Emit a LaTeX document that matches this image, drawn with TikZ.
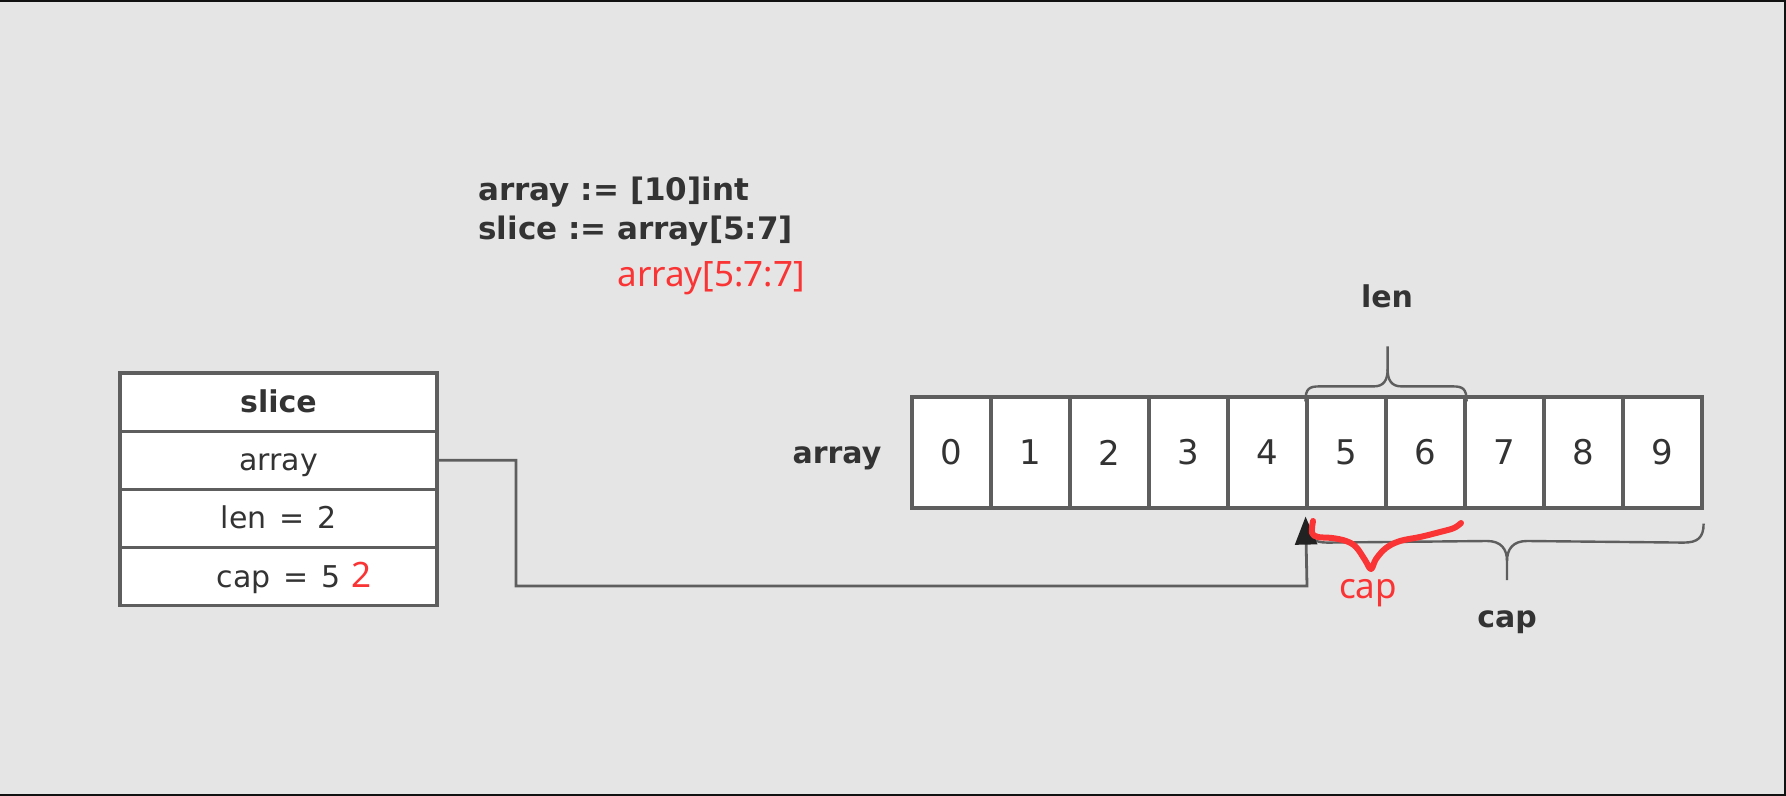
\documentclass[tikz,border=0pt]{standalone}
\usepackage{fontspec}
\setmainfont{DejaVu Sans}
\newfontfamily\redfont{Noto Sans}
\usetikzlibrary{arrows.meta,calc}
\definecolor{bg}{HTML}{E5E5E5}
\definecolor{ink}{HTML}{333333}
\definecolor{edge}{HTML}{5E5E5E}
\definecolor{hand}{HTML}{FA3434}
\definecolor{frame}{HTML}{111111}
\definecolor{tipc}{HTML}{222222}
\tikzset{
  row/.style={draw=edge, line width=1.6pt, fill=white, minimum width=158.5pt, minimum height=29.1pt, inner sep=0pt, text=ink, font=\fontsize{15}{18}\selectfont, text height=11.8pt, text depth=1.5pt},
  cell/.style={draw=edge, line width=1.6pt, fill=white, minimum width=39.5pt, minimum height=55.5pt, inner sep=0pt, text=ink, font=\fontsize{17}{20}\selectfont},
  boldlab/.style={text=ink, font=\bfseries\fontsize{15}{18}\selectfont, inner sep=0pt, text height=11.8pt, text depth=1.5pt},
  code/.style={text=ink, font=\bfseries\fontsize{15.5}{19}\selectfont, inner sep=0pt, anchor=west},
  redtext/.style={text=hand, font=\redfont\fontsize{17.5}{20}\selectfont, inner sep=0pt},
  link/.style={draw=edge, line width=1.4pt},
  bracestyle/.style={draw=edge, line width=1.2pt},
  handstroke/.style={draw=hand, line width=3pt, line cap=round, line join=round}
}
\begin{document}
\begin{tikzpicture}[x=0.5pt,y=-0.5pt]
\fill[bg] (0,0) rectangle (1786,796);
\useasboundingbox (0,0) rectangle (1786,796);
\fill[frame] (0,0) rectangle (1786,2.5);
\fill[frame] (1783.5,0) rectangle (1786,796);
\fill[frame] (0,793.5) rectangle (1786,796);

% code text
\node[code] (l1) at (478,192) {array := [10]int};
\node[code] (l2) at (478,231) {slice := array[5:7]};
\node[redtext, anchor=west] (l3) at (617,278) {array[5:7:7]};

% slice struct
\node[row, font=\bfseries\fontsize{15}{18}\selectfont] (s0) at (278.5,402) {slice};
\node[row] (s1) at (278.5,460.25) {array};
\node[row] (s2) at (278.5,518.5) {len\hskip0.42em=\hskip0.42em2};
\node[row] (s3) at (278.5,576.75) {};
\node[text=ink, font=\fontsize{15}{18}\selectfont, inner sep=0pt, text height=11.8pt, text depth=1.5pt] (capt) at (s3) {cap\hskip0.42em=\hskip0.42em5};
\node[redtext, anchor=base west, inner sep=0pt] (two) at ($(capt.base east)+(11,0)$) {2};

% array
\node[boldlab] (alab) at (837,453) {array};
\foreach \i in {0,...,9} {
  \node[cell] (c\i) at ({951.5+79*\i},452.5) {\i};
}

% len brace
\draw[bracestyle] ($(c5.north west)+(0,6)$) .. controls ($(c5.north west)+(0,-7)$) and ($(c5.north west)+(4,-9)$) .. ($(c5.north west)+(14,-9)$)
  -- ($(c5.north east)+(-14,-9)$) .. controls ($(c5.north east)+(-4,-9)$) and ($(c5.north east)+(0,-15)$) .. ($(c5.north east)+(0,-26)$) -- ($(c5.north east)+(0,-49)$);
\draw[bracestyle] ($(c6.north east)+(0,6)$) .. controls ($(c6.north east)+(0,-7)$) and ($(c6.north east)+(-4,-9)$) .. ($(c6.north east)+(-14,-9)$)
  -- ($(c5.north east)+(14,-9)$) .. controls ($(c5.north east)+(4,-9)$) and ($(c5.north east)+(0,-15)$) .. ($(c5.north east)+(0,-26)$);
\node[boldlab] (lenlab) at (1387,297) {len};

% cap brace
\coordinate (capmid) at (1507,541);
\draw[bracestyle] ($(c9.south east)+(0,14)$) .. controls ($(c9.south east)+(0,28)$) and ($(c9.south east)+(-6,33)$) .. ($(c9.south east)+(-20,33)$)
  -- ($(capmid)+(20,0)$) .. controls ($(capmid)+(6,0)$) and ($(capmid)+(0,8)$) .. ($(capmid)+(0,20)$) -- ($(capmid)+(0,39)$);
\draw[bracestyle] ($(c5.south west)+(2,14)$) .. controls ($(c5.south west)+(2,28)$) and ($(c5.south west)+(8,33)$) .. ($(c5.south west)+(22,33)$)
  -- ($(capmid)+(-20,0)$) .. controls ($(capmid)+(-6,0)$) and ($(capmid)+(0,8)$) .. ($(capmid)+(0,20)$);
\node[boldlab] (caplab) at (1507,617) {cap};

% pointer
\coordinate (p1) at (516,460.25);
\coordinate (p2) at (516,586);
\coordinate (p3) at (1307,586);
\draw[link, -{Triangle[length=14pt,width=11pt,color=tipc]}, shorten >=3.5pt] (s1.east) -- (p1) -- (p2) -- (p3) -- (c5.south west);

% hand-drawn red brace
\draw[handstroke] plot[smooth, tension=0.6] coordinates {(1313,521) (1312,533) (1318,537) (1332,538) (1346,541) (1356,547) (1365,560) (1371,569) (1376,559) (1386,548) (1400,541) (1420,537) (1440,532) (1454,528) (1461,523)};
\node[redtext] (redcap) at (1368,593) {cap};
\end{tikzpicture}
\end{document}
